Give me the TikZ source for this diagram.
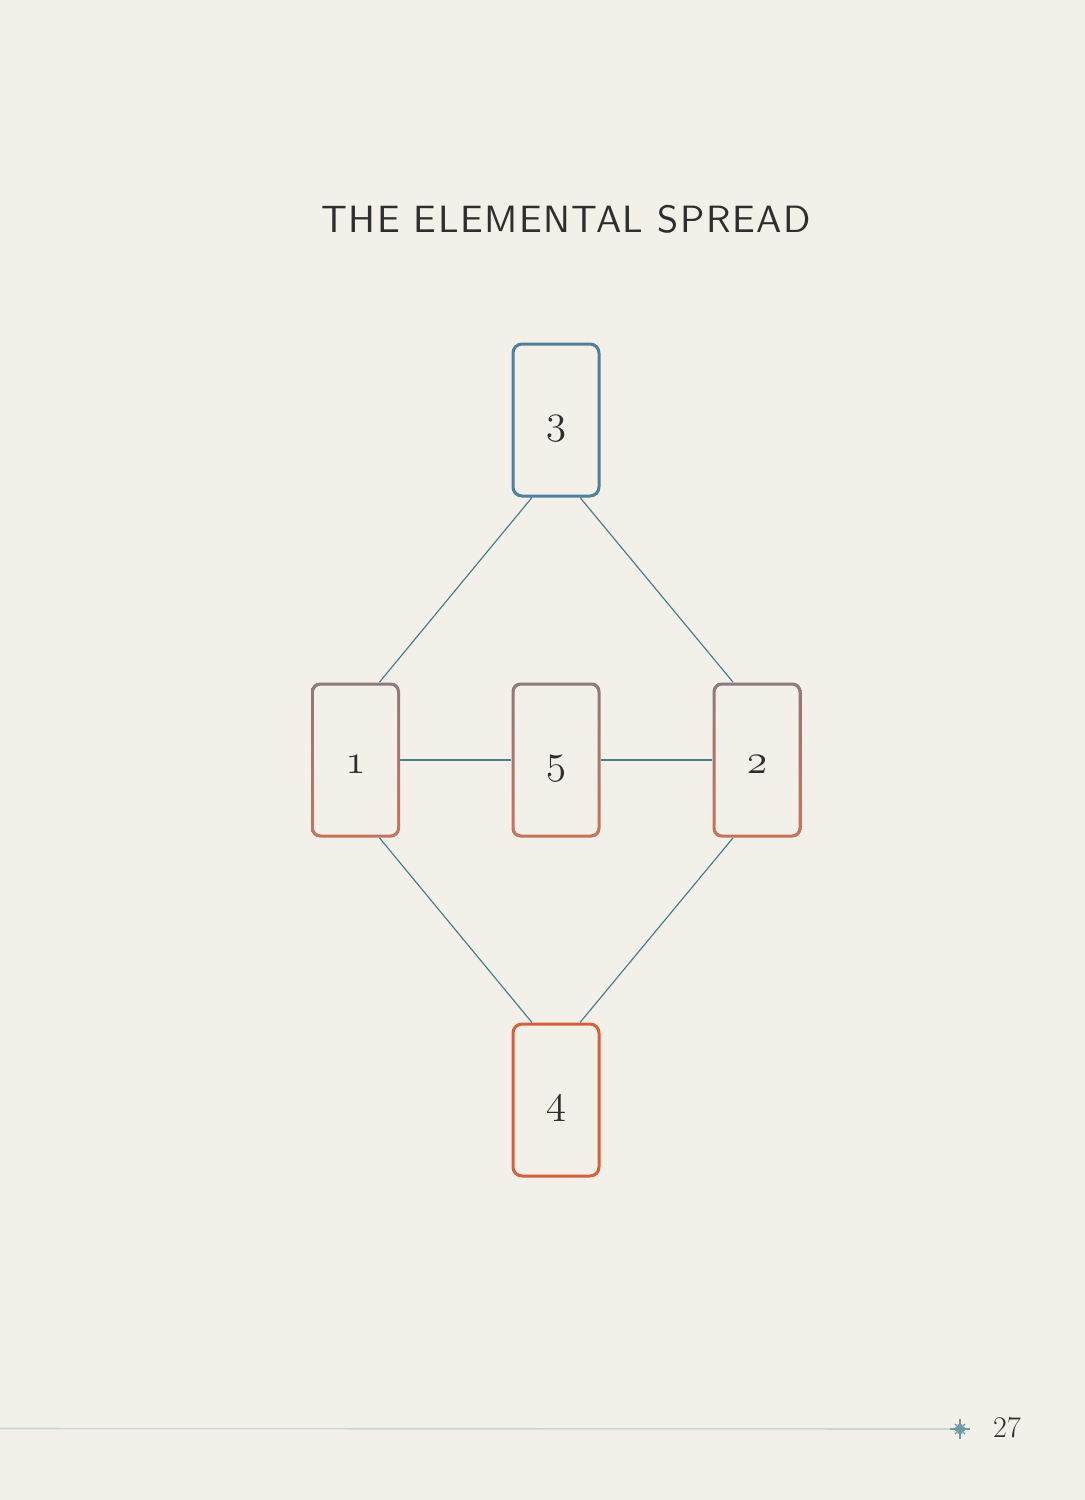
\documentclass[tikz,border=0pt]{standalone}
\usepackage{fontspec}
\newfontfamily\titlefont{lmsans10-regular.otf}[LetterSpace=4]

\definecolor{paper}{HTML}{F3F0EA}
\definecolor{airblue}{HTML}{4F8099}
\definecolor{firered}{HTML}{D4603C}
\definecolor{earthtop}{HTML}{8C7A7A}
\definecolor{earthbot}{HTML}{C8735C}
\definecolor{linkteal}{HTML}{4C7F8E}
\definecolor{rulegrey}{HTML}{C9D6D8}
\definecolor{startint}{HTML}{6F9AA6}
\definecolor{inkgrey}{HTML}{2E2E2E}

\newcommand{\numfont}{\fontsize{22}{26}\usefont{OML}{cmm}{m}{it}}

\tikzset{
  cardbase/.style={rounded corners=4.5pt, inner sep=0pt, text height=13pt, text depth=0pt, font=\numfont, text=inkgrey},
  card/.style={cardbase, draw, line width=1.5pt, minimum width=43pt, minimum height=76pt},
  shadecard/.style={cardbase, minimum width=44.5pt, minimum height=77.5pt,
    top color=earthtop, bottom color=earthbot,
    path picture={\fill[paper, rounded corners=3.5pt] ([shift={(1.5pt,1.5pt)}]path picture bounding box.south west) rectangle ([shift={(-1.5pt,-1.5pt)}]path picture bounding box.north east);}},
  link/.style={draw=linkteal, line width=0.6pt},
}

\begin{document}
\begin{tikzpicture}[x=0.5pt,y=-0.5pt]
    % page
    \fill[paper] (0,0) rectangle (1085,1500);
    \useasboundingbox (0,0) rectangle (1085,1500);

    % Text Node
    \node[font={\titlefont\fontsize{19}{23}\selectfont}, text=inkgrey] (title) at (566,219) {THE ELEMENTAL SPREAD};

    % cards
    \node[card, draw=airblue] (c3) at (556,420) {3};
    \node[shadecard] (c1) at (355.5,760) {1};
    \node[shadecard] (c5) at (556,760) {5};
    \node[shadecard] (c2) at (757,760) {2};
    \node[card, draw=firered] (c4) at (556,1100) {4};

    % links
    \draw[link] ([xshift=-12pt]c3.south) -- ([xshift=12pt]c1.north);
    \draw[link] ([xshift=12pt]c3.south) -- ([xshift=-12pt]c2.north);
    \draw[link] ([xshift=12pt]c1.south) -- ([xshift=-12pt]c4.north);
    \draw[link] ([xshift=-12pt]c2.south) -- ([xshift=12pt]c4.north);
    \draw[link] (c1.east) -- (c5.west);
    \draw[link] (c5.east) -- (c2.west);

    % footer
    \coordinate (star) at (960,1429);
    \draw[rulegrey, line width=0.8pt] (0,1428.5) -- (star);
    \foreach \a/\r in {0/10,90/10,180/10,270/10,45/7,135/7,225/7,315/7,22.5/5,67.5/5,112.5/5,157.5/5,202.5/5,247.5/5,292.5/5,337.5/5}
      \draw[startint, line width=0.6pt] (star) -- ++(\a:\r);
    \fill[startint] (star) circle (2.5);

    % Text Node
    \node[font=\fontsize{15}{18}\selectfont, text=inkgrey, anchor=base] (page) at (1007,1437) {27};
\end{tikzpicture}
\end{document}
